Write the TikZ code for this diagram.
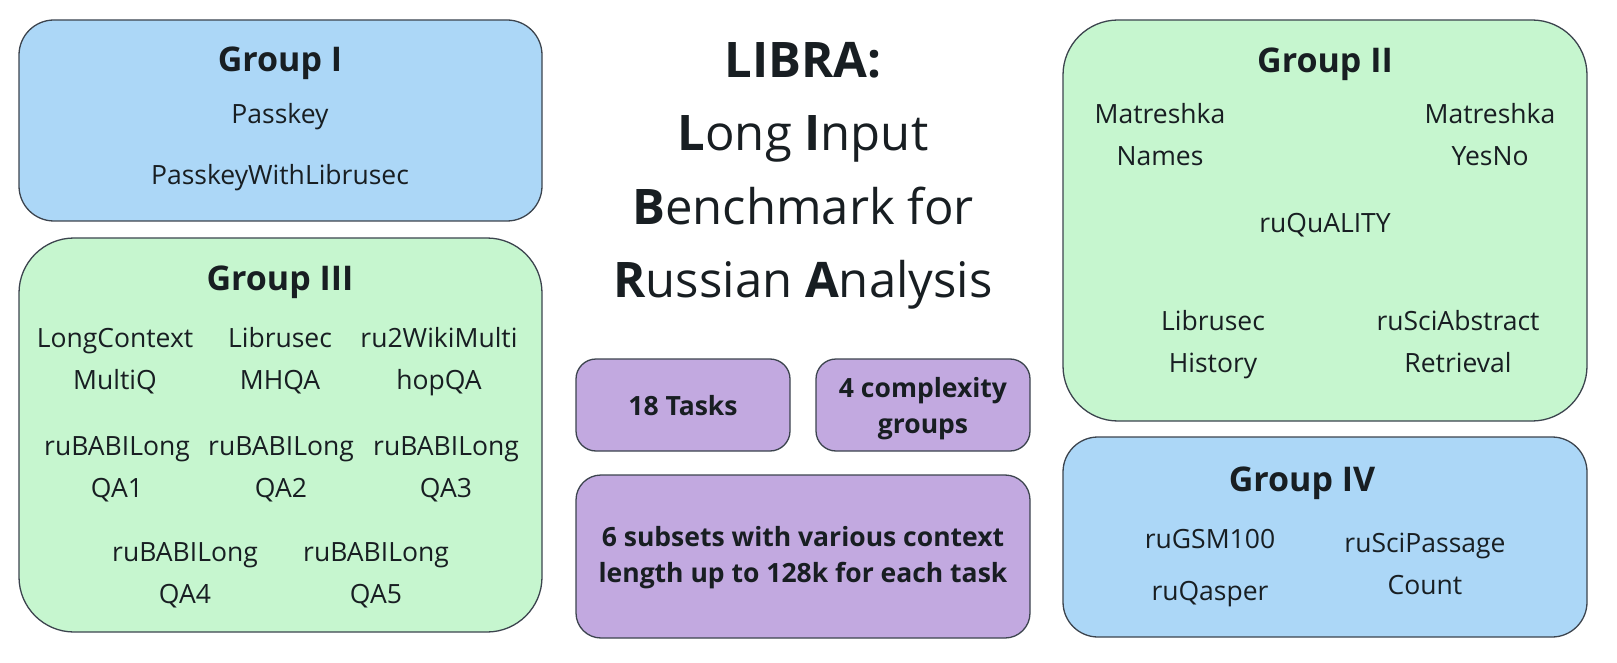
\documentclass[tikz,border=0pt]{standalone}
\usepackage{fontspec}
\setmainfont{Open Sans}
\usetikzlibrary{positioning}
\definecolor{boxblue}{RGB}{172,215,247}
\definecolor{boxgreen}{RGB}{198,246,207}
\definecolor{boxpurple}{RGB}{194,169,224}
\definecolor{boxline}{RGB}{60,68,78}
\definecolor{inktext}{RGB}{24,30,34}
\begin{document}
\begin{tikzpicture}[x=1pt,y=-1pt,
    groupbox/.style={draw=boxline,line width=1.3pt},
    gtitle/.style={anchor=base,inner sep=0pt,text=inktext,font=\fontsize{34}{40}\selectfont\bfseries},
    task/.style={anchor=base,inner sep=0pt,align=center,text=inktext,font=\fontsize{26.5}{42}\selectfont},
    fact/.style={inner sep=0pt,align=center,text=inktext,font=\fontsize{26.5}{36}\selectfont\bfseries}]
    \useasboundingbox (0,0) rectangle (1617,663);
    % boxes
    \draw[groupbox,fill=boxblue,rounded corners=35pt] (19,20) rectangle (542,221);
    \draw[groupbox,fill=boxgreen,rounded corners=55pt] (19,238) rectangle (542,632);
    \draw[groupbox,fill=boxgreen,rounded corners=55pt] (1063,20) rectangle (1587,421);
    \draw[groupbox,fill=boxblue,rounded corners=35pt] (1063,437) rectangle (1587,637);
    \draw[groupbox,fill=boxpurple,rounded corners=20pt] (576,359) rectangle (790,451);
    \draw[groupbox,fill=boxpurple,rounded corners=20pt] (816,359) rectangle (1030,451);
    \draw[groupbox,fill=boxpurple,rounded corners=25pt] (576,475) rectangle (1030,638);

    \node[inner sep=0pt,align=center,text=inktext,font=\fontsize{49}{73.5}\selectfont] (libra) at (803,176)
        {\textbf{LIBRA:}\\\textbf{L}ong \textbf{I}nput\\\textbf{B}enchmark for\\\textbf{R}ussian \textbf{A}nalysis};
    \node[fact] (ntasks) at (683,406) {18 Tasks};
    \node[fact] (ngroups) at (923,409) {4 complexity\\groups};
    \node[fact] (nsubsets) at (803,558) {6 subsets with various context\\length up to 128k for each task};

    % Group I
    \node[gtitle] (g1) at (280,72) {Group I};
    \node[task] (passkey) at (280,124) {Passkey};
    \node[task] (passkeylib) at (280,185) {PasskeyWithLibrusec};

    % Group III
    \node[gtitle] (g3) at (280,290) {Group III};
    \node[task] (lcmq) at (115,389) {LongContext\\MultiQ};
    \node[task] (lmhqa) at (280,389) {Librusec\\MHQA};
    \node[task] (wiki) at (439,389) {ru2WikiMulti\\hopQA};
    \node[task] (qa1) at (117,497) {ruBABILong\\QA1};
    \node[task] (qa2) at (281,497) {ruBABILong\\QA2};
    \node[task] (qa3) at (446,497) {ruBABILong\\QA3};
    \node[task] (qa4) at (185,603) {ruBABILong\\QA4};
    \node[task] (qa5) at (376,603) {ruBABILong\\QA5};

    % Group II
    \node[gtitle] (g2) at (1325,73) {Group II};
    \node[task] (mnames) at (1160,166) {Matreshka\\Names};
    \node[task] (myesno) at (1490,166) {Matreshka\\YesNo};
    \node[task] (quality) at (1325,233) {ruQuALITY};
    \node[task] (lhist) at (1213,372) {Librusec\\History};
    \node[task] (abstract) at (1458,372) {ruSciAbstract\\Retrieval};

    % Group IV
    \node[gtitle] (g4) at (1302,491) {Group IV};
    \node[task] (gsm) at (1210,548) {ruGSM100};
    \node[task] (qasper) at (1210,600) {ruQasper};
    \node[task] (passage) at (1425,594) {ruSciPassage\\Count};
\end{tikzpicture}
\end{document}
